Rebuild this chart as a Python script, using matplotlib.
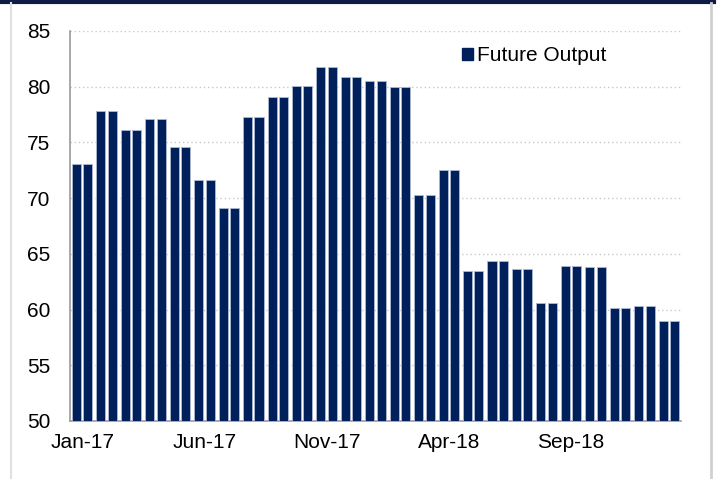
import numpy as np
import matplotlib
matplotlib.use("Agg")
import matplotlib.pyplot as plt
from matplotlib.lines import Line2D
from matplotlib.patches import Patch

plt.rcParams['font.family'] = ['Liberation Sans', 'DejaVu Sans']

# --- dane ---
months = ["Jan-17", "Feb-17", "Mar-17", "Apr-17", "May-17", "Jun-17", "Jul-17", "Aug-17",
          "Sep-17", "Oct-17", "Nov-17", "Dec-17", "Jan-18", "Feb-18", "Mar-18", "Apr-18",
          "May-18", "Jun-18", "Jul-18", "Aug-18", "Sep-18", "Oct-18", "Nov-18", "Dec-18", "Jan-19"]
future_output = [73.1, 77.8, 76.1, 77.1, 74.6, 71.6, 69.1, 77.3, 79.1, 80.1, 81.8, 80.9, 80.5,
                 80.0, 70.3, 72.5, 63.5, 64.4, 63.6, 60.6, 63.9, 63.8, 60.1, 60.3, 59.0]
y_ticks = [50, 55, 60, 65, 70, 75, 80, 85]

NAVY = '#00205c'
FS = 15

fig = plt.figure(figsize=(7.21, 4.79), dpi=100)
ax = fig.add_axes([70 / 721, 1 - 421 / 479, 611 / 721, (421 - 31) / 479])

x = np.arange(len(months))
# each month drawn as a pair of identical bars
for off in (-0.233, 0.233):
    ax.bar(x + off, future_output, width=0.37, bottom=0, color=NAVY,
           edgecolor='#aeb8d2', linewidth=0.6, zorder=3)

ax.set_xlim(-0.5, len(months) - 0.5)
ax.set_ylim(50, 85)
ax.set_yticks(y_ticks)
ax.set_xticks(x[::5])
ax.set_xticklabels(months[::5])
ax.tick_params(axis='both', length=0, labelsize=FS, colors='black')
ax.tick_params(axis='y', pad=14)
ax.tick_params(axis='x', pad=9)

ax.yaxis.grid(True, linestyle=(0, (1, 2)), color='#c8c8c8', linewidth=1)
ax.set_axisbelow(True)
for s in ('top', 'right'):
    ax.spines[s].set_visible(False)
for s in ('left', 'bottom'):
    ax.spines[s].set_color('#9a9a9a')
    ax.spines[s].set_linewidth(1.2)

handles = [Patch(facecolor=NAVY, edgecolor=NAVY, label='Future Output')]
ax.legend(handles=handles, loc='upper left', bbox_to_anchor=(382 / 611, 1 - 5 / 390),
          frameon=False, fontsize=FS, handlelength=0.5, handleheight=0.5,
          handletextpad=0.2, borderpad=0)

# ramka obrazu
fig.add_artist(Line2D([0, 714 / 721], [1 - 1.5 / 479] * 2, color='#0d1b45', linewidth=3))
fig.add_artist(Line2D([11 / 721] * 2, [0, 1 - 3 / 479], color='#e0e0e0', linewidth=1.5))
fig.add_artist(Line2D([711 / 721] * 2, [0, 1 - 3 / 479], color='#d0d0d0', linewidth=2))

fig.savefig('out.png', dpi=100)
